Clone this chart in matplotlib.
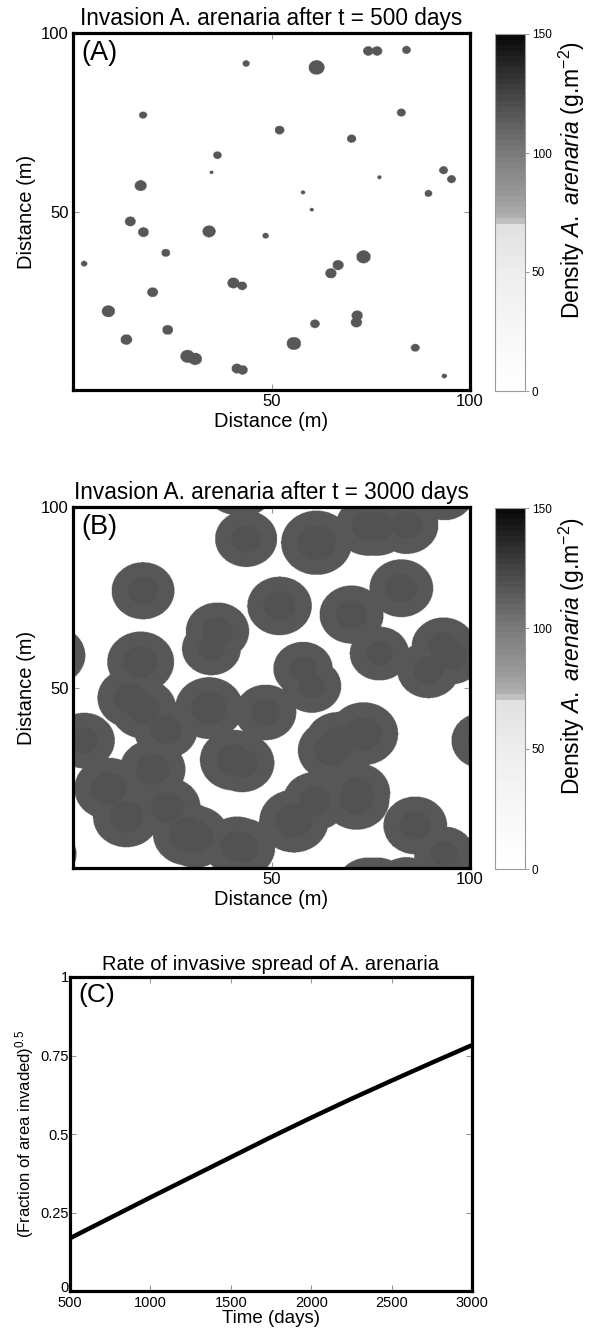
import numpy as np
import matplotlib
matplotlib.use("Agg")
import matplotlib.pyplot as plt
import matplotlib.transforms as mtransforms
from matplotlib.colors import LinearSegmentedColormap, ListedColormap

plt.rcParams['font.family'] = ['Liberation Sans', 'DejaVu Sans']
plt.rcParams['mathtext.fontset'] = 'custom'
plt.rcParams['mathtext.rm'] = 'Liberation Sans'
plt.rcParams['mathtext.it'] = 'Liberation Sans:italic'

# ---------------- data ----------------
# patch centres (m) and radii (m) of A. arenaria at t = 500 days
patch_x = [43.5, 17.6, 51.9, 36.3, 34.8, 17.0, 14.4, 17.7, 34.2, 48.4, 23.3, 2.8,
           40.3, 42.5, 20.0, 8.9, 23.8, 13.4, 28.8, 30.7, 41.2, 42.6, 55.5, 60.0,
           73.0, 64.8, 66.6, 60.8, 71.4, 71.2, 86.0, 93.3, 74.2, 76.4, 83.8, 61.2,
           82.5, 70.0, 93.1, 95.1, 77.0, 57.8, 89.3]
patch_y = [91.2, 76.8, 72.6, 65.6, 60.8, 57.1, 47.1, 44.1, 44.3, 43.1, 38.3, 35.3,
           29.9, 29.1, 27.3, 22.0, 16.8, 14.1, 9.4, 8.7, 6.0, 5.6, 13.0, 50.4,
           37.2, 32.6, 34.9, 18.5, 20.8, 18.9, 11.8, 3.9, 94.7, 94.7, 95.0, 90.1,
           77.5, 70.2, 61.4, 58.9, 59.4, 55.2, 54.9]
patch_r = [0.9, 1.0, 1.2, 1.05, 0.5, 1.5, 1.35, 1.35, 1.65, 0.8, 1.1, 0.8,
           1.5, 1.2, 1.35, 1.65, 1.35, 1.45, 1.8, 1.7, 1.35, 1.3, 1.8, 0.5,
           1.8, 1.4, 1.4, 1.2, 1.4, 1.4, 1.1, 0.67, 1.3, 1.3, 1.1, 2.0,
           1.1, 1.15, 1.1, 1.1, 0.55, 0.55, 0.95]
density_a = 116.0          # density inside patches at t = 500 days
density_b_ring = 116.0     # density of the spreading front at t = 3000 days
density_b_core = 119.5     # density of the patch cores at t = 3000 days
growth_front = 6.9         # radial growth of the front between t=500 and t=3000 (m)
growth_core = 2.8          # radial growth of the dense core (m)

# rate of spread (panel C)
time_days = [500, 750, 1000, 1250, 1500, 1750, 2000, 2250, 2500, 2750, 3000]
sqrt_frac = [0.168, 0.233, 0.298, 0.362, 0.426, 0.490, 0.552, 0.612, 0.670, 0.727, 0.783]

# ---------------- fields ----------------
L = 100.0
n = 800
g = (np.arange(n) + 0.5) * L / n
GX, GY = np.meshgrid(g, g)


def periodic_dist(cx, cy):
    dx = np.abs(GX - cx)
    dx = np.minimum(dx, L - dx)
    dy = np.abs(GY - cy)
    dy = np.minimum(dy, L - dy)
    return np.hypot(dx, dy)


field_a = np.zeros_like(GX)
field_b = np.zeros_like(GX)
for cx, cy, r in zip(patch_x, patch_y, patch_r):
    d = periodic_dist(cx, cy)
    field_a[d <= r] = density_a
    ring = (d <= r + growth_front)
    field_b[ring] = np.maximum(field_b[ring], density_b_ring)
    core = (d <= r + growth_core)
    field_b[core] = density_b_core

# colormap (MATLAB-like banded grey map)
base = LinearSegmentedColormap.from_list(
    'dens',
    [(0.0, (1, 1, 1)), (0.15, (0.97,) * 3), (0.33, (0.93,) * 3), (0.46, (0.88,) * 3),
     (0.48, (0.70,) * 3), (0.55, (0.60,) * 3), (0.667, (0.48,) * 3),
     (0.75, (0.38,) * 3), (0.83, (0.28,) * 3), (0.9, (0.18,) * 3), (1.0, (0.04,) * 3)])
cmap = ListedColormap(base(np.linspace(0, 1, 64)))

fig = plt.figure(figsize=(5.9, 13.29), dpi=100)

W, H = 590.0, 1329.0


def fax(l, t, r, b):
    return fig.add_axes([l / W, 1 - b / H, (r - l) / W, (b - t) / H])


def style_axes(ax):
    for s in ax.spines.values():
        s.set_linewidth(2.3)
        s.set_color('black')
    ax.tick_params(direction='in', length=4, width=0.8, color='#999999',
                   top=True, right=True, pad=3)


cb_label = r'Density $\it{A.\ arenaria}$ (g.m$^{-2}$)'

for field, (t, b), title, tag in [
        (field_a, (33, 390), 'Invasion A. arenaria after t = 500 days', '(A)'),
        (field_b, (507, 868), 'Invasion A. arenaria after t = 3000 days', '(B)')]:
    ax = fax(73, t, 470, b)
    im = ax.imshow(field, origin='lower', extent=[0, 100, 0, 100], cmap=cmap,
                   vmin=0, vmax=150, aspect='auto', interpolation='antialiased')
    ax.set_xlim(0, 100)
    ax.set_ylim(0, 100)
    ax.set_xticks([50, 100])
    ax.set_yticks([50, 100])
    style_axes(ax)
    ax.tick_params(labelsize=12)
    ax.set_xlabel('Distance (m)', fontsize=14.5, labelpad=2)
    ax.set_ylabel('Distance (m)', fontsize=14.5, labelpad=4)
    ax.set_title(title, fontsize=16.3, pad=6)
    ax.text(0.022, 0.98, tag, transform=ax.transAxes, fontsize=19.5,
            ha='left', va='top')

    cax = fax(495, t + 1, 525, b + 1)
    cb = fig.colorbar(im, cax=cax, ticks=[0, 50, 100, 150])
    cb.outline.set_edgecolor('#999999')
    cb.outline.set_linewidth(0.8)
    cax.tick_params(labelsize=8.5, length=3, width=0.6, color='#888888', pad=2)
    cb.set_label(cb_label, fontsize=16.5)
    cax.yaxis.set_label_coords(2.05, 0.59)

axc = fax(70, 977, 472, 1291)
axc.plot(time_days, sqrt_frac, color='black', lw=3.2, solid_capstyle='butt')
axc.set_xlim(500, 3000)
axc.set_ylim(0, 1)
axc.set_xticks([500, 1000, 1500, 2000, 2500, 3000])
axc.set_yticks([0, 0.25, 0.5, 0.75, 1])
axc.set_yticklabels(['0', '0.25', '0.5', '0.75', '1'])
style_axes(axc)
axc.tick_params(labelsize=10.5, pad=1)
axc.tick_params(axis='x', pad=3.5)
# lift the "0" label slightly so it clears the "500" label
zero_lbl = axc.get_yticklabels()[0]
zero_lbl.set_transform(zero_lbl.get_transform() +
                       mtransforms.ScaledTranslation(0, 3.5 / 72, fig.dpi_scale_trans))
axc.set_xlabel('Time (days)', fontsize=13.5, labelpad=0)
axc.set_ylabel(r'(Fraction of area invaded)$^{0.5}$', fontsize=12, labelpad=3)
axc.set_title('Rate of invasive spread of A. arenaria', fontsize=14.5, pad=5)
axc.text(0.022, 0.98, '(C)', transform=axc.transAxes, fontsize=19,
         ha='left', va='top')

fig.savefig('out.png', dpi=100)
